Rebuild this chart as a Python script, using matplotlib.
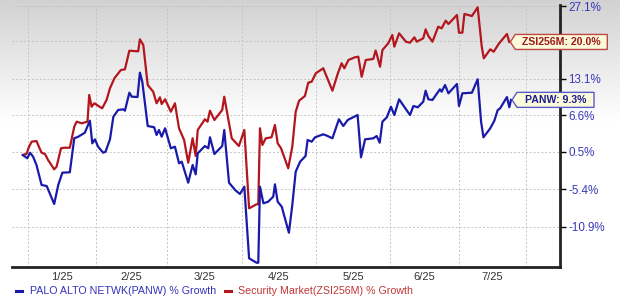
import numpy as np
import matplotlib
matplotlib.use("Agg")
import matplotlib.pyplot as plt
from matplotlib.patches import Polygon
from matplotlib.lines import Line2D

plt.rcParams['font.family'] = ['Liberation Sans', 'DejaVu Sans']

# x = trading session index since the start of the window
RED_X = [0, 1.1, 1.8, 2.6, 4.0, 4.7, 5.5, 6.5, 7.4, 9.2,
         9.9, 11.2, 12.1, 13.8, 15.1, 15.8, 17.3, 19.0, 19.5, 20.2,
         21.0, 23.3, 24.6, 25.6, 26.9, 28.8, 30.0, 31.3, 33.9, 34.4,
         35.4, 36.7, 38.3, 39.3, 40.3, 40.8, 41.8, 43.5, 44.7, 45.9,
         47.4, 48.6, 49.9, 50.8, 51.4, 53.5, 54.3, 55.0, 56.3, 58.6,
         59.2, 61.4, 63.5, 65.1, 66.5, 68.7, 69.2, 69.7, 70.4, 71.4,
         73.1, 74.1, 74.9, 75.9, 78.0, 79.2, 80.2, 81.2, 82.9, 83.9,
         84.9, 86.1, 88.3, 91.0, 92.6, 93.7, 94.5, 95.7, 97.6, 98.6,
         99.6, 100.8, 103.0, 103.7, 104.1, 105.0, 105.7, 107.4, 108.6, 109.2,
         110.6, 112.6, 113.8, 115.1, 115.8, 117.7, 118.4, 119.2, 120.4, 122.1,
         123.1, 124.3, 125.1, 127.6, 128.2, 129.2, 129.8, 132.0, 133.7, 134.9,
         135.5, 137.4, 138.4, 140.0, 142.3, 143.0]
# Security Market (ZSI256M) % growth
RED_Y = [0, 0.2, 1.35, 2.17, 2.28, 1.35, 0.37, 0.16, -0.80, -2.28,
         -1.87, 1.09, 1.18, 1.18, 4.67, 5.52, 5.25, 5.52, 10.16, 8.10,
         8.70, 7.82, 9.28, 11.36, 13.17, 14.69, 14.82, 18.32, 18.2, 20.51,
         19.41, 11.95, 10.75, 8.70, 9.75, 8.57, 9.40, 7.23, 8.70, 4.40,
         2.45, -1.23, 2.73, -0.16, 4.11, 5.93, 5.52, 7.41, 5.81, 7.53,
         9.86, 2.73, 1.46, 4.11, -8.24, -7.64, -7.64, 4.40, 1.63, 2.73,
         2.90, 4.96, 1.90, 1.09, -2.12, 1.35, 7.23, 9.15, 9.98, 12.37,
         12.55, 14.08, 15.01, 10.93, 14.08, 15.94, 15.01, 16.56, 17.07, 17.18,
         13.46, 16.56, 16.75, 18.36, 17.50, 15.31, 18.45, 19.74, 21.35, 19.09,
         21.69, 20.05, 19.86, 20.90, 20.05, 20.71, 22.47, 21.16, 20.05, 22.99,
         22.67, 24.19, 23.53, 25.33, 21.81, 21.81, 25.54, 25.13, 26.90, 19.09,
         16.88, 18.59, 18.13, 19.74, 21.55, 20.0]

BLUE_X = [0, 1.3, 2.1, 3.0, 4.0, 5.5, 7.0, 9.2, 10.4, 11.6,
          13.8, 15.1, 16.3, 18.2, 19.7, 20.4, 21.2, 22.1, 23.6, 24.3,
          25.6, 26.6, 28.0, 29.5, 30.0, 31.3, 32.0, 33.7, 34.4, 35.1,
          36.7, 38.6, 39.3, 40.0, 40.8, 41.8, 43.5, 44.7, 45.9, 46.7,
          48.6, 49.9, 50.8, 51.4, 53.5, 54.5, 55.0, 56.3, 58.6, 59.2,
          60.6, 62.4, 63.8, 65.1, 66.5, 68.7, 69.2, 69.7, 70.7, 72.1,
          73.6, 74.1, 74.9, 76.1, 78.2, 79.2, 80.2, 81.5, 83.1, 83.7,
          84.9, 85.9, 88.3, 89.6, 91.0, 92.9, 94.2, 95.5, 98.4, 99.4,
          100.6, 103.0, 104.0, 104.9, 105.7, 107.0, 108.2, 109.2, 110.6, 112.1,
          113.8, 114.8, 116.1, 117.7, 118.4, 119.2, 120.4, 122.6, 123.1, 124.1,
          125.1, 127.6, 128.2, 129.2, 132.0, 133.7, 134.7, 135.4, 137.4, 138.6,
          139.6, 140.3, 142.3, 143.0, 143.5]
# PALO ALTO NETWK (PANW) % growth
BLUE_Y = [0, -0.53, 0.37, -0.27, -1.60, -4.72, -4.88, -7.60, -4.72, -2.81,
          -2.75, 2.73, 3.00, 3.66, 5.69, 1.90, 2.56, 1.35, 0.37, 0.53,
          2.56, 6.37, 7.53, 7.65, 7.41, 10.57, 9.86, 9.81, 14.20, 12.55,
          4.79, 4.57, 3.28, 4.11, 3.00, 4.40, 1.09, 1.35, -1.33, -1.07,
          -4.37, -1.60, -3.07, 0.27, 1.46, 1.09, 2.90, 0.16, 1.46, 4.11,
          -4.37, -5.49, -6.10, -4.98, -15.35, -15.95, -15.95, -4.98, -7.49, -7.26,
          -6.50, -4.62, -7.26, -8.00, -11.78, -7.75, -2.66, -1.07, -0.16, 2.45,
          2.17, 2.90, 3.39, 3.11, 2.73, 5.93, 4.79, 5.81, 6.66, -0.37,
          2.56, 2.73, 3.11, 2.00, 5.52, 6.27, 8.10, 6.66, 9.40, 8.10,
          6.66, 8.22, 8.00, 8.98, 10.93, 9.40, 9.28, 11.18, 10.75, 11.95,
          10.46, 12.13, 8.22, 10.46, 10.57, 12.99, 5.52, 2.90, 4.40, 5.69,
          7.53, 7.82, 9.8, 8.0, 9.3]

MONTH_STARTS = [1.5, 21.5, 42.4, 64.4, 86.2, 107.9, 128.2, 147.9]
MONTH_LABELS = ['1/25', '2/25', '3/25', '4/25', '5/25', '6/25', '7/25']
Y_TICKS = [-10.9, -5.4, 0.5, 6.6, 13.1, 20.1, 27.1]
Y_TICK_LABELS = ['-10.9%', '-5.4%', '0.5%', '6.6%', '13.1%', '', '27.1%']

RED = '#b3161c'
BLUE = '#1a1aaa'
TICK_BLUE = '#3a3ab8'

W, H = 620, 303
fig = plt.figure(figsize=(W / 100, H / 100), dpi=100)

# background gradient (gray at top fading to white)
bg = fig.add_axes([0, 0, 1, 1], zorder=-5)
grad = np.ones((H, 1))
top_rows = 125
grad[:top_rows, 0] = np.linspace(0.82, 1.0, top_rows)
bg.imshow(grad, aspect='auto', cmap='gray', vmin=0, vmax=1, extent=[0, 1, 0, 1])
bg.axis('off')

ax_left, ax_right, ax_top, ax_bottom = 12, 560, 5, 267
ax = fig.add_axes([ax_left / W, 1 - ax_bottom / H, (ax_right - ax_left) / W,
                   (ax_bottom - ax_top) / H])
ax.set_facecolor('none')


def fwd(v):
    return np.log1p(np.asarray(v, dtype=float) / 100.0)


def inv(u):
    return 100.0 * np.expm1(u)


ax.set_yscale('function', functions=(fwd, inv))
ax.set_ylim(inv((155 - ax_bottom) / 620), inv((155 - ax_top) / 620))
ax.set_xlim(-3.2, 157.9)

ax.plot(RED_X, RED_Y, color=RED, lw=1.6, zorder=3, solid_joinstyle='round')
ax.plot(BLUE_X, BLUE_Y, color=BLUE, lw=1.6, zorder=4, solid_joinstyle='round')

# axes and ticks
ax.yaxis.tick_right()
ax.set_yticks(Y_TICKS)
ax.set_yticklabels(Y_TICK_LABELS)
ax.tick_params(axis='y', direction='out', length=4, width=1, color='black',
               labelsize=8.4, labelcolor=TICK_BLUE, pad=2)
ax.set_xticks(MONTH_STARTS)
ax.set_xticklabels([])
mids = [(a + b) / 2 for a, b in zip(MONTH_STARTS[:-1], MONTH_STARTS[1:])]
ax.set_xticks(mids, minor=True)
ax.set_xticklabels(MONTH_LABELS, minor=True)
ax.tick_params(axis='x', which='both', length=0, labelsize=8.0,
               labelcolor='#333333', pad=3.5)

ax.grid(True, which='major', color='#c4c4c4', lw=0.7, linestyle=(0, (2, 2)))
for s in ['left', 'top']:
    ax.spines[s].set_visible(False)
ax.spines['right'].set_linewidth(2)
ax.spines['bottom'].set_linewidth(2)
ax.spines['bottom'].set_color('#222222')
ax.spines['right'].set_color('#222222')

fig.canvas.draw()


# end-value tags with a left pointing notch
def value_tag(x, y, text, edge, txt_color, width):
    px, py = ax.transData.transform((x, y))
    tip = px + 1
    left = tip + 5
    h = 7.5
    verts = [(tip, py), (left, py + h), (left + width, py + h),
             (left + width, py - h), (left, py - h)]
    fig.patches.append(Polygon(verts, closed=True, transform=None,
                               facecolor='#fbfbdc', edgecolor=edge, lw=1,
                               zorder=10, figure=fig))
    fig.text((left + width / 2) / W, py / H, text, ha='center', va='center',
             fontsize=7.6, fontweight='bold', color=txt_color, zorder=11)


value_tag(RED_X[-1], RED_Y[-1], 'ZSI256M: 20.0%', '#c04545', '#a01818', 92)
value_tag(BLUE_X[-1], BLUE_Y[-1], 'PANW: 9.3%', '#5a5ac8', '#1a1a90', 77)

# legend
legend_y = 1 - 291 / H
fig.add_artist(Line2D([16 / W, 22 / W], [legend_y, legend_y], color=BLUE, lw=2.2))
fig.text(30 / W, legend_y, 'PALO ALTO NETWK(PANW) % Growth', color='#3333bb',
         fontsize=7.7, va='center', ha='left')
fig.add_artist(Line2D([225 / W, 231 / W], [legend_y, legend_y], color=RED, lw=2.2))
fig.text(238 / W, legend_y, 'Security Market(ZSI256M) % Growth', color='#c03535',
         fontsize=7.7, va='center', ha='left')

fig.savefig('out.png', dpi=100)
